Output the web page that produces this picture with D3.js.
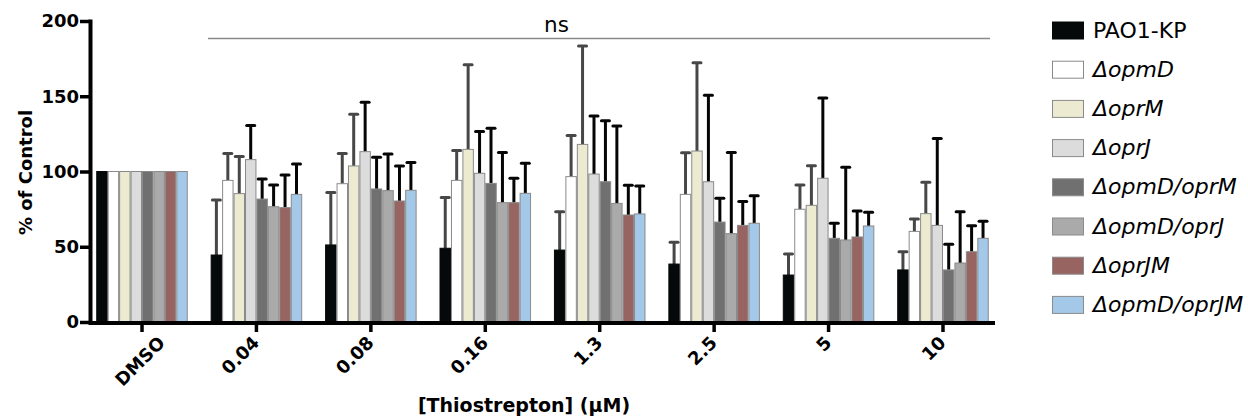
<!DOCTYPE html>
<html>
<head>
<meta charset="utf-8">
<script src="https://cdn.jsdelivr.net/npm/d3@7"></script>
<style>
  body { margin: 0; background: #fff; }
  svg { font-family: "DejaVu Sans", sans-serif; }
</style>
</head>
<body>
<div id="chart"></div>
<script>
var doses = ["DMSO", "0.04", "0.08", "0.16", "1.3", "2.5", "5", "10"];
var strains = ["PAO1-KP", "ΔopmD", "ΔoprM", "ΔoprJ", "ΔopmD/oprM", "ΔopmD/oprJ", "ΔoprJM", "ΔopmD/oprJM"];
var colors = ["#050909", "#ffffff", "#ecebd2", "#dcdcdc", "#707070", "#aaaaaa", "#976461", "#a3c8e8"];
var errColors = ["#474747", "#474747", "#474747", "#050505", "#050505", "#050505", "#050505", "#050505"];
var yTicks = [0, 50, 100, 150, 200];

// mean per strain, one value per dose
var means = [
	[100, 44.5, 51.2, 49, 47.8, 38.5, 31.2, 34.6],
	[100, 94.1, 91.9, 94.1, 96.6, 84.8, 74.9, 60.2],
	[100, 85.3, 103.7, 114.7, 118, 113.6, 77.5, 72],
	[100, 107.9, 113.2, 98.8, 98.3, 93.2, 95.5, 64.2],
	[100, 81.7, 88.4, 92.1, 93.2, 66.4, 55.6, 34.6],
	[100, 76.6, 87.3, 79.3, 78.8, 58.7, 54.5, 39.2],
	[100, 76, 80.4, 79.3, 71.1, 64.2, 56.5, 46.7],
	[100, 84.8, 87.5, 85.5, 71.8, 65.6, 63.8, 55.6]
];
// top of error bar (mean + SD); null = none
var upper = [
	[null, 81, 86, 82.8, 73.3, 53, 45.2, 46.7],
	[null, 112, 112, 114, 124, 112.5, 91, 68.4],
	[null, 110, 138, 171, 183.4, 172.3, 103.9, 92.8],
	[null, 130.5, 146, 126.5, 136.9, 150.6, 148.8, 122],
	[null, 95, 109.4, 128.7, 133.8, 82.2, 65.6, 51.6],
	[null, 91, 111.6, 112.7, 130.2, 112.7, 102.8, 73.3],
	[null, 97.7, 103.7, 95.5, 90.8, 80, 73.8, 64],
	[null, 105, 105.9, 105.4, 90.4, 83.9, 72.9, 67]
];

var width = 1248, height = 417;

var svg = d3.select("#chart").append("svg")
	.attr("width", width)
	.attr("height", height);

var x = d3.scaleBand()
	.domain(doses)
	.range([84.8, 1000.2])
	.paddingInner(0.2)
	.paddingOuter(0.1);

var xs = d3.scaleBand()
	.domain(strains)
	.range([0, x.bandwidth()]);

var y = d3.scaleLinear()
	.domain([0, 200])
	.range([322, 21]);

// bars
var groups = svg.append("g").selectAll("g")
	.data(doses)
	.join("g")
		.attr("transform", function(d) { return "translate(" + x(d) + ",0)"; });

groups.each(function(dose, di) {
	var g = d3.select(this);
	strains.forEach(function(s, si) {
		var m = means[si][di], u = upper[si][di];
		var bx = xs(s), bw = xs.bandwidth();
		if (u != null) {
			var cx = bx + bw / 2;
			g.append("line")
				.attr("x1", cx).attr("x2", cx)
				.attr("y1", y(m)).attr("y2", y(u))
				.attr("stroke", errColors[si])
				.attr("stroke-width", 3);
			g.append("line")
				.attr("x1", cx - 4).attr("x2", cx + 4)
				.attr("y1", y(u)).attr("y2", y(u))
				.attr("stroke", errColors[si])
				.attr("stroke-width", 3)
				.attr("stroke-linecap", "round");
		}
		g.append("rect")
			.attr("x", bx + 0.5)
			.attr("y", y(m))
			.attr("width", bw - 1)
			.attr("height", y(0) - y(m))
			.attr("fill", colors[si])
			.attr("stroke", si === 0 ? "#050909" : "#8a8a8a")
			.attr("stroke-width", 1);
	});
});

// y axis
var yAxis = svg.append("g")
	.attr("transform", "translate(90,0)")
	.call(d3.axisLeft(y).tickValues(yTicks).tickSize(10).tickSizeOuter(0).tickPadding(1));
yAxis.select(".domain").remove();
yAxis.selectAll(".tick line").attr("stroke", "#000").attr("stroke-width", 3.5);
yAxis.selectAll(".tick text")
	.attr("font-size", 18).attr("font-weight", "bold").attr("fill", "#000")
	.attr("font-family", "DejaVu Sans, sans-serif");
svg.append("line")
	.attr("x1", 90.5).attr("x2", 90.5)
	.attr("y1", y(200) - 1.5).attr("y2", y(0) + 2)
	.attr("stroke", "#000").attr("stroke-width", 4);

// x axis
var xAxis = svg.append("g")
	.attr("transform", "translate(0," + (y(0) + 1) + ")")
	.call(d3.axisBottom(x).tickSize(9).tickSizeOuter(0));
xAxis.select(".domain").remove();
xAxis.selectAll(".tick line").attr("stroke", "#000").attr("stroke-width", 3.5);
xAxis.selectAll(".tick text")
	.attr("font-size", 18).attr("font-weight", "bold").attr("fill", "#000")
	.attr("font-family", "DejaVu Sans, sans-serif")
	.attr("text-anchor", "end")
	.attr("y", 0).attr("dy", 0)
	.attr("transform", function(d) {
		var dx = isNaN(+d) ? 24 : 4;
		return "translate(" + dx + ",21) rotate(-45)";
	});
svg.append("line")
	.attr("x1", 88.5).attr("x2", 995)
	.attr("y1", y(0) + 1).attr("y2", y(0) + 1)
	.attr("stroke", "#000").attr("stroke-width", 4);

// axis titles
svg.append("text")
	.attr("transform", "translate(32," + 172.5 + ") rotate(-90)")
	.attr("text-anchor", "middle")
	.attr("font-size", 18).attr("font-weight", "bold")
	.text("% of Control");

svg.append("text")
	.attr("x", 524).attr("y", 412)
	.attr("text-anchor", "middle")
	.attr("font-size", 19).attr("font-weight", "bold")
	.text("[Thiostrepton] (μM)");

// ns bracket
svg.append("line")
	.attr("x1", 208).attr("x2", 990)
	.attr("y1", 38.5).attr("y2", 38.5)
	.attr("stroke", "#8a8a8a").attr("stroke-width", 1.5);
svg.append("text")
	.attr("x", 556.5).attr("y", 32)
	.attr("text-anchor", "middle")
	.attr("font-size", 21.5)
	.text("ns");

// legend
var legend = svg.append("g").selectAll("g")
	.data(strains)
	.join("g")
		.attr("transform", function(d, i) { return "translate(1052.5," + (22 + i * 39.2) + ")"; });
legend.append("rect")
	.attr("width", 31).attr("height", 17)
	.attr("fill", function(d, i) { return colors[i]; })
	.attr("stroke", function(d, i) { return i === 0 ? "#050909" : "#8a8a8a"; });
legend.append("text")
	.attr("x", 40.5).attr("y", 15.5)
	.attr("font-size", 22)
	.attr("font-style", function(d, i) { return i === 0 ? "normal" : "italic"; })
	.text(function(d) { return d; });
</script>
</body>
</html>
